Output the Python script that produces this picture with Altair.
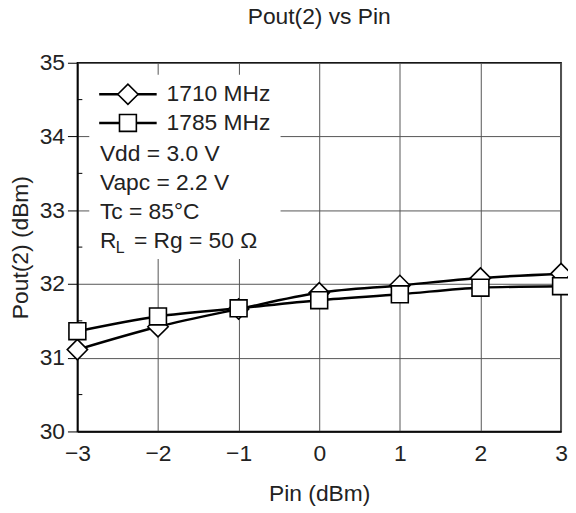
import altair as alt
import pandas as pd

# ---- data ----
pin = [-3, -2, -1, 0, 1, 2, 3]
pout_1710 = [31.11, 31.42, 31.66, 31.88, 31.98, 32.08, 32.14]
pout_1785 = [31.36, 31.56, 31.67, 31.78, 31.86, 31.95, 31.97]
series = ["1710 MHz", "1785 MHz"]
x_ticks = [-3, -2, -1, 0, 1, 2, 3]
y_ticks = [30, 31, 32, 33, 34, 35]
y_minor = [30.5, 31.5, 32.5, 33.5, 34.5]
conditions = ["Vdd = 3.0 V", "Vapc = 2.2 V", "Tc = 85°C"]

df = pd.DataFrame({
    "pin": pin + pin,
    "pout": pout_1710 + pout_1785,
    "series": [series[0]] * len(pin) + [series[1]] * len(pin),
})
one = pd.DataFrame({"k": [0]})
minor_df = pd.DataFrame({"pout": y_minor})
leg_df = pd.DataFrame({"series": series})

FONT = "Liberation Sans"
TXT = "#222222"

x_enc = alt.X(
    "pin:Q",
    scale=alt.Scale(domain=[-3, 3], nice=False),
    axis=alt.Axis(
        values=x_ticks, format="d", title="Pin (dBm)", grid=True, gridColor="#555555", gridWidth=1,
        ticks=False, tickSize=0, labelPadding=11, labelFontSize=23, labelFont=FONT, labelFlush=False,
        labelColor=TXT, titleFontSize=23, titleFont=FONT, titleFontWeight="normal",
        titleColor=TXT, titleX=244, titleY=63, titleBaseline="middle",
        domainColor="black", domainWidth=1.5,
    ),
)
y_enc = alt.Y(
    "pout:Q",
    scale=alt.Scale(domain=[30, 35], nice=False),
    axis=alt.Axis(
        values=y_ticks, format="d", title="Pout(2) (dBm)", grid=True, gridColor="#555555", gridWidth=1,
        tickSize=10, tickColor="black", labelPadding=3, labelFontSize=23, labelFont=FONT, labelFlush=False,
        labelColor=TXT, titleFontSize=23, titleFont=FONT, titleFontWeight="normal",
        titleColor=TXT, titleX=-57, titleY=186, titleBaseline="middle", titleAlign="center",
        domainColor="black", domainWidth=1.5,
    ),
)

shape_enc = alt.Shape("series:N", scale=alt.Scale(domain=series, range=["diamond", "square"]), legend=None)
size_enc = alt.Size("series:N", scale=alt.Scale(domain=series, range=[420, 290]), legend=None)

box = alt.Chart(one).mark_rect(fill="white").encode(
    x=alt.value(12), x2=alt.value(205), y=alt.value(12), y2=alt.value(198)
)

minor = alt.Chart(minor_df).mark_rule(color="black", strokeWidth=1).encode(
    y=alt.Y("pout:Q"), x=alt.value(0), x2=alt.value(5)
)

lines = alt.Chart(df).mark_line(color="black", strokeWidth=2.5, interpolate="monotone").encode(
    x=x_enc, y=y_enc, detail="series:N"
)

points = alt.Chart(df).mark_point(filled=True, fill="white", stroke="black", strokeWidth=1.6, opacity=1).encode(
    x="pin:Q", y="pout:Q", shape=shape_enc, size=size_enc,
)

cond_text = alt.Chart(one).mark_text(
    align="left", baseline="alphabetic", fontSize=23, font=FONT, lineHeight=29.3, color=TXT
).encode(x=alt.value(22.7), y=alt.value(98.9), text=alt.value(conditions))

r_text = alt.Chart(one).mark_text(
    align="left", baseline="alphabetic", fontSize=23, font=FONT, color=TXT
).encode(x=alt.value(22.7), y=alt.value(186.7), text=alt.value("R"))

l_text = alt.Chart(one).mark_text(
    align="left", baseline="alphabetic", fontSize=16, font=FONT, color=TXT
).encode(x=alt.value(38.7), y=alt.value(191.7), text=alt.value("L"))

rest_text = alt.Chart(one).mark_text(
    align="left", baseline="alphabetic", fontSize=23, font=FONT, color=TXT
).encode(x=alt.value(57), y=alt.value(186.7), text=alt.value("= Rg = 50 Ω"))

main = alt.layer(lines, box, minor, points, cond_text, r_text, l_text, rest_text)

# legend block: one row per series (row number from a window transform), own y scale
leg_y = alt.Y("row:Q", scale=alt.Scale(domain=[1, 2], range=[31.8, 60.7], nice=False, zero=False), axis=None)
leg_base = alt.Chart(leg_df).transform_window(row="row_number()")
leg_rule = leg_base.mark_rule(color="black", strokeWidth=2.5).encode(
    y=leg_y, x=alt.value(22), x2=alt.value(80)
)
leg_pts = leg_base.mark_point(filled=True, fill="white", stroke="black", strokeWidth=1.6, opacity=1).encode(
    y=leg_y, x=alt.value(51), shape=shape_enc, size=size_enc
)
leg_txt = leg_base.mark_text(
    align="left", baseline="middle", fontSize=23, font=FONT, color=TXT
).encode(y=leg_y, x=alt.value(90), text="series:N")
legend_block = alt.layer(leg_rule, leg_pts, leg_txt)

chart = alt.layer(main, legend_block).resolve_scale(y="independent").properties(
    width=488, height=372,
    autosize=alt.AutoSizeParams(type="none"),
    padding={"left": 70, "top": 53, "right": 7, "bottom": 76},
    title=alt.Title("Pout(2) vs Pin", fontSize=23, fontWeight="normal", font=FONT, color=TXT,
                    frame="group", anchor="middle", baseline="alphabetic", offset=5),
).configure_view(stroke="black", strokeWidth=1.5)

chart.save("out.html", embed_options={"renderer": "svg", "actions": False})
